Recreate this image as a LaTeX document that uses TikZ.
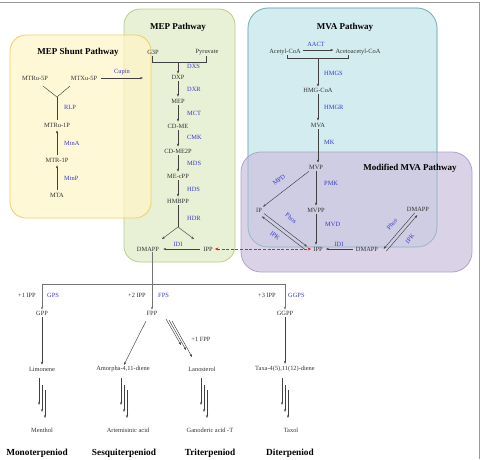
\documentclass[tikz,border=0pt]{standalone}
\usepackage{fontspec}
\setmainfont{Liberation Serif}
\usetikzlibrary{arrows.meta}
\definecolor{enz}{HTML}{3B3BC8}
\definecolor{txt}{HTML}{333333}
\definecolor{yelfill}{HTML}{FFF5C8}
\definecolor{yeledge}{HTML}{EDCF62}
\definecolor{grnfill}{HTML}{E8F0D6}
\definecolor{grnedge}{HTML}{BCCB8E}
\definecolor{blufill}{HTML}{D3ECEF}
\definecolor{bluedge}{HTML}{7DB3BC}
\definecolor{purfill}{HTML}{CDC3DF}
\definecolor{puredge}{HTML}{AFA3CB}
\definecolor{redarr}{HTML}{F01818}
\begin{document}
\begin{tikzpicture}[x=1pt,y=-1pt,
  t/.style={font=\fontsize{6.4}{7}\selectfont, inner sep=1pt, text=txt},
  e/.style={font=\fontsize{6.4}{7}\selectfont, inner sep=1pt, text=enz},
  er/.style={e, anchor=west},
  ttl/.style={font=\fontsize{9}{10}\selectfont\bfseries, inner sep=1pt, text=black},
  cat/.style={font=\fontsize{9.3}{10}\selectfont\bfseries, inner sep=1pt, text=black},
  ln/.style={draw=black!75, line width=0.45pt},
  ar/.style={ln, -{Stealth[length=3pt,width=2.2pt]}},
  gl/.style={draw=black!55, line width=0.8pt},
  gar/.style={gl, -{Stealth[length=3pt,width=2.4pt]}},
  boxy/.style={rounded corners=16pt, line width=0.8pt},
]
\useasboundingbox (0,0) rectangle (482,459);
% frame
\draw[black!40, line width=0.8pt] (0,2) -- (479,2) -- (479,459);

% boxes
\draw[boxy, fill=grnfill, draw=grnedge] (124,9) rectangle (235,262);
\draw[boxy, fill=yelfill, fill opacity=0.75, draw=yeledge] (10,35) rectangle (151,218);
\draw[boxy, rounded corners=20pt, fill=blufill, draw=bluedge] (248,8) rectangle (437,247);
\draw[boxy, rounded corners=20pt, fill=purfill, fill opacity=0.75, draw=puredge] (241,152) rectangle (472,272);
\draw[rounded corners=20pt, draw=bluedge, draw opacity=0.6, line width=0.6pt] (248,8) rectangle (437,247);

% ---------- MEP shunt ----------
\node[ttl] (shT) at (78,52) {MEP Shunt Pathway};
\node[t] (mtru5p) at (35,78) {MTRu-5P};
\node[t] (mtxu5p) at (84,78) {MTXu-5P};
\node[t] (mtru1p) at (57,125) {MTRu-1P};
\node[t] (mtr1p) at (57,160) {MTR-1P};
\node[t] (mta) at (57,195) {MTA};
\coordinate (shj) at (57,97);
\coordinate (shl) at (43,86);
\coordinate (shr) at (70,86);
\draw[ln] (mtru1p.north) ++(0,-2) -- (shj);
\draw[ln] (shl) -- (shj) -- (shr);
\node[er] (rlp) at (63,107) {RLP};
\draw[ar, shorten <=2pt, shorten >=2pt] (mtr1p) -- (mtru1p);
\node[er] (mtna) at (63,143) {MtnA};
\draw[ar, shorten <=2pt, shorten >=2pt] (mta) -- (mtr1p);
\node[er] (mtnp) at (63,178) {MtnP};
\coordinate (cupEnd) at (143,78);
\draw[ar, shorten <=3pt] (mtxu5p) -- (cupEnd);
\node[e] (cupin) at (122,72) {Cupin};

% ---------- MEP pathway ----------
\node[ttl] (mepT) at (178,27) {MEP Pathway};
\node[t] (g3p) at (153,52) {G3P};
\node[t] (pyr) at (207,52) {Pyruvate};
\coordinate (brL) at (152,62);
\coordinate (brR) at (206,62);
\coordinate (brM) at (178,62);
\draw[ln] (g3p.south) ++(-1,1) coordinate (g3pb) -- (g3pb |- brL) -- (brR) -- (pyr.south -| brR);
\node[t] (dxp) at (178,77) {DXP};
\draw[ar] (brM) -- (dxp);
\node[er] (dxs) at (186,66) {DXS};
\node[t] (mep) at (178,101) {MEP};
\node[t] (cdme) at (178,126) {CD-ME};
\node[t] (cdme2p) at (178,151) {CD-ME2P};
\node[t] (mecpp) at (178,176) {ME-cPP};
\node[t] (hmbpp) at (178,201) {HMBPP};
\draw[ar, shorten <=1pt, shorten >=1pt] (dxp) -- (mep);
\draw[ar, shorten <=1pt, shorten >=1pt] (mep) -- (cdme);
\draw[ar, shorten <=1pt, shorten >=1pt] (cdme) -- (cdme2p);
\draw[ar, shorten <=1pt, shorten >=1pt] (cdme2p) -- (mecpp);
\draw[ar, shorten <=1pt, shorten >=1pt] (mecpp) -- (hmbpp);
\node[er] (dxr) at (186,89) {DXR};
\node[er] (mct) at (186,113) {MCT};
\node[er] (cmk) at (186,137) {CMK};
\node[er] (mds) at (186,163) {MDS};
\node[er] (hds) at (186,189) {HDS};
\node[er] (hdr) at (186,218) {HDR};
\node[t] (dmappA) at (148,249) {DMAPP};
\node[t] (ippA) at (208,249) {IPP};
\coordinate (mepj) at (178,227);
\coordinate (mepjl) at (162,239);
\coordinate (mepjr) at (194,239);
\draw[ln, shorten <=1pt] (hmbpp) -- (mepj);
\draw[ar] (mepj) -- (mepjl);
\draw[ar] (mepj) -- (mepjr);
\draw[ar, shorten <=2pt, shorten >=3pt] (ippA) -- (dmappA);
\node[e] (idiA) at (178,244) {IDI};

% ---------- MVA pathway ----------
\node[ttl] (mvaT) at (345,27) {MVA Pathway};
\node[t] (acoa) at (285,52) {Acetyl-CoA};
\node[t] (aacoa) at (358,52) {Acetoacetyl-CoA};
\draw[ar, shorten <=1pt, shorten >=1pt] (acoa.east |- 0,50) -- (aacoa.west |- 0,50);
\node[e] (aact) at (316,44) {AACT};
\coordinate (bmL) at (287,58);
\coordinate (bmR) at (348,58);
\coordinate (bmM) at (318,58);
\draw[ln] (287,55) -- (bmL) -- (bmR) -- (348,55);
\node[t] (hmgcoa) at (318,90) {HMG-CoA};
\node[t] (mva) at (318,125) {MVA};
\node[t] (mvp) at (316,167) {MVP};
\draw[ar] (bmM) -- (hmgcoa);
\draw[ar, shorten <=1pt, shorten >=1pt] (hmgcoa) -- (mva);
\draw[ar, shorten <=1pt, shorten >=1pt] (mva) -- (mvp.north -| mva);
\node[er] (hmgs) at (323,73) {HMGS};
\node[er] (hmgr) at (323,107) {HMGR};
\node[er] (mk) at (323,142) {MK};

% ---------- Modified MVA ----------
\node[ttl] (mmvaT) at (410,168) {Modified MVA Pathway};
\node[t] (mvpp) at (316,210) {MVPP};
\node[t] (ippB) at (318,249) {IPP};
\node[t] (dmappB) at (367,249) {DMAPP};
\node[t] (dmappC) at (418,209) {DMAPP};
\node[t] (ip) at (259,210) {IP};
\draw[ar, shorten <=1pt, shorten >=1pt] (mvp) -- (mvpp);
\draw[ar, shorten <=1pt, shorten >=1pt] (mvpp) -- (ippB.north -| mvpp);
\node[er] (pmk) at (323,183) {PMK};
\node[er] (mvd) at (324,224) {MVD};
\draw[ar, shorten <=2pt, shorten >=2pt] (dmappB) -- (ippB);
\node[e] (idiB) at (339,244) {IDI};
\draw[ar] (mvp.south west) ++(1,1) -- (ip.north east);
\node[e, rotate=39, inner sep=0pt] (mpd) at (279,180) {MPD};
% IP <-> IPP
\coordinate (ipa) at (263,215);
\coordinate (ippa) at (306,248);
\draw[ar] ([shift={(1.1,-1.4)}]ipa) -- ([shift={(1.1,-1.4)}]ippa);
\draw[ar] ([shift={(-1.1,1.4)}]ippa) -- ([shift={(-1.1,1.4)}]ipa);
\node[e, rotate=-38, inner sep=0pt] (phos1) at (291,218) {Phos};
\node[e, rotate=-38, inner sep=0pt] (ipk1) at (275,236) {IPK};
% DMAPP <-> DMAPP
\coordinate (dca) at (416,214);
\coordinate (dba) at (385,250);
\draw[ar] ([shift={(-1.3,-1.1)}]dca) -- ([shift={(-1.3,-1.1)}]dba);
\draw[ar] ([shift={(1.3,1.1)}]dba) -- ([shift={(1.3,1.1)}]dca);
\node[e, rotate=50, inner sep=0pt] (phos2) at (392,224) {Phos};
\node[e, rotate=50, inner sep=0pt] (ipk2) at (410,239) {IPK};

% red dashed link
\draw[draw=redarr, dash pattern=on 3pt off 1.6pt, line width=0.9pt,
  {Stealth[length=3.6pt,width=3pt,fill=redarr]}-{Stealth[length=3.6pt,width=3pt,fill=redarr]}]
  ([xshift=1pt]ippA.east) -- ([xshift=-1pt]ippB.west);

% ---------- downstream ----------
\node[t] (gpp) at (42,313) {GPP};
\node[t] (fpp) at (152,313) {FPP};
\node[t] (ggpp) at (285,313) {GGPP};
\coordinate (hb) at (0,284);
\draw[gar] (dmappA.south -| fpp) -- (fpp);
\draw[gl] (gpp |- hb) -- (ggpp |- hb);
\draw[gar] (gpp |- hb) -- (gpp);
\draw[gar] (ggpp |- hb) -- (ggpp);
\node[t, anchor=east] (ipp1) at (37,295) {+1 IPP};
\node[er] (gps) at (46,295) {GPS};
\node[t, anchor=east] (ipp2) at (147,295) {+2 IPP};
\node[er] (fps) at (157,295) {FPS};
\node[t, anchor=east] (ipp3) at (277,295) {+3 IPP};
\node[er] (ggps) at (287,295) {GGPS};

\node[t] (limo) at (42,369) {Limonene};
\node[t] (amor) at (123,369) {Amorpha-4,11-diene};
\node[t] (lano) at (202,369) {Lanosterol};
\node[t] (taxa) at (285,369) {Taxa-4(5),11(12)-diene};
\draw[ar, shorten <=1pt, shorten >=1pt] (gpp) -- (limo);
\draw[ar, shorten <=1pt, shorten >=1pt] (ggpp) -- (taxa);
\draw[ar] (146,321) -- (amor.north -| 124,0);
\draw[ar] (166,319) -- (181,345);
\draw[ar] (169,320) -- (186,350);
\draw[ar] (172,321) -- (192,357);
\node[t] (fpp1) at (201,339) {+1 FPP};

\node[t] (menthol) at (42,430) {Menthol};
\node[t] (artem) at (128,430) {Artemisinic acid};
\node[t] (gano) at (210,430) {Ganoderic acid -T};
\node[t] (taxol) at (291,430) {Taxol};
\foreach \bx in {42,124,204,285}{
  \draw[ar] (\bx-3,378) -- (\bx-3,405);
  \draw[ar] (\bx,385) -- (\bx,412);
  \draw[ar] (\bx+3,390) -- (\bx+3,418);
}
\node[cat] (mono) at (37,453) {Monoterpeniod};
\node[cat] (sesq) at (124,453) {Sesquiterpeniod};
\node[cat] (trit) at (210,453) {Triterpeniod};
\node[cat] (dite) at (290,453) {Diterpeniod};
\end{tikzpicture}
\end{document}
